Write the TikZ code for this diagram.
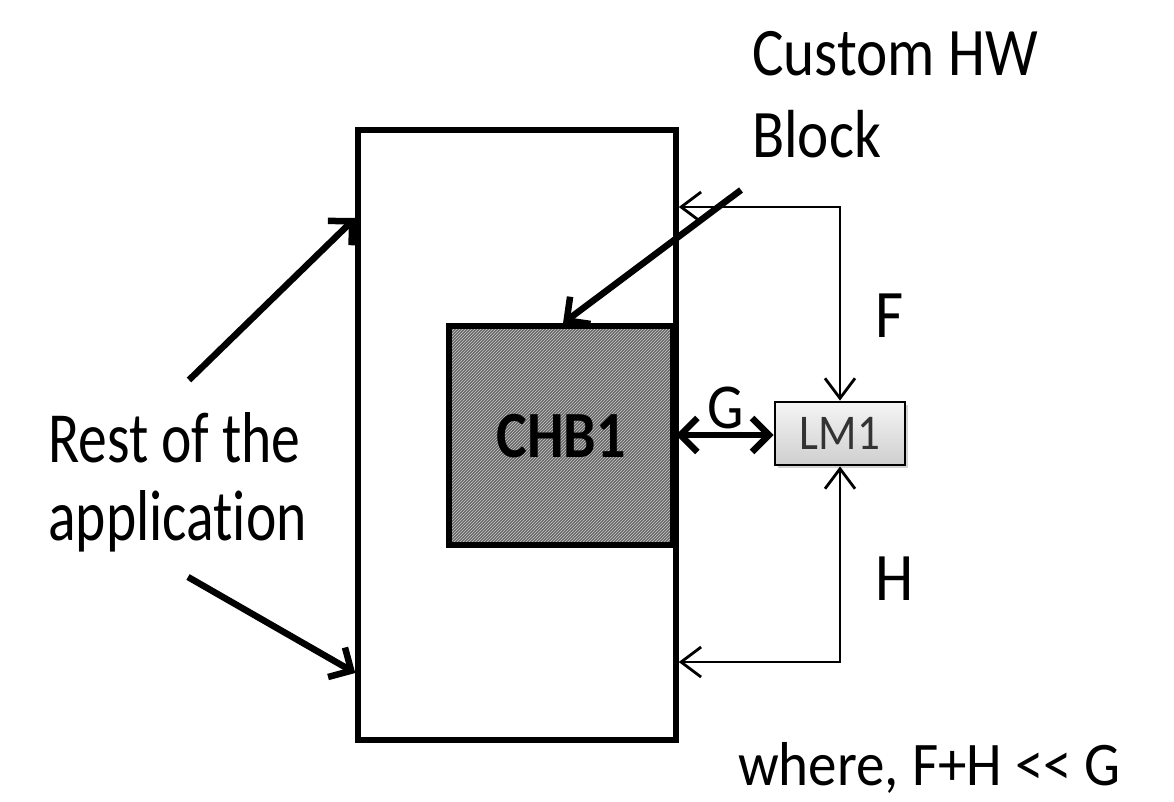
\documentclass[tikz,border=0pt]{standalone}
\usepackage{fontspec}
\newfontfamily\cf{Carlito}[Ligatures={NoCommon}]
\usetikzlibrary{arrows.meta,patterns,shadows}
\newcommand\txt[3]{\scalebox{#1}[1]{\fontsize{#2}{#2}\cf\selectfont #3}}
\begin{document}
\begin{tikzpicture}[x=1pt,y=-1pt,
  box/.style={draw,line width=5.5pt,inner sep=0pt},
  thinarrow/.style={line width=2.8pt,{Straight Barb[length=20pt,width=30pt]}-{Straight Barb[length=20pt,width=30pt]}},
  bigarrow/.style={line width=6.5pt,-{Straight Barb[length=17pt,width=34pt]}},
  gar/.style={line width=6.5pt,{Straight Barb[length=17pt,width=34pt]}-{Straight Barb[length=17pt,width=34pt]}},
  lbl/.style={inner sep=0pt,anchor=base west}]
\useasboundingbox (0,0) rectangle (1174,801);
% main block
\node[box,minimum width=318pt,minimum height=610pt] (main) at (517,435) {};
% CHB1
\node[box,minimum width=224pt,minimum height=219pt,
  preaction={fill=black!60},pattern=north east lines,pattern color=white!80!black] (chb) at (561,435.5) {};
\node[inner sep=0pt] (chbt) at (561,436) {\txt{0.88}{66}{\bfseries CHB1}};
% LM1
\node[draw,line width=2.8pt,minimum width=130pt,minimum height=63pt,inner sep=0pt,
  top color=gray!8,bottom color=gray!38,drop shadow={opacity=0.35,shadow xshift=3pt,shadow yshift=-3pt}] (lm) at (840,433.5)
  {\color{black!80}\txt{0.9}{50}{LM1}};
% connectors F, H, G
\draw[thinarrow] (lm.north) |- (main.east |- 0,207);
\draw[thinarrow] (lm.south) |- (main.east |- 0,662);
\draw[gar] (chb.east |- 0,435) -- (lm.west |- 0,435);
\node[lbl] (F) at (875,337) {\txt{0.9}{68}{F}};
\node[lbl] (H) at (875,600) {\txt{0.9}{68}{H}};
\node[lbl] (G) at (707,428) {\txt{0.9}{64}{G}};
% Custom HW Block
\node[lbl] (c1) at (752,75) {\txt{0.87}{68}{Custom HW}};
\node[lbl] (c2) at (752,157) {\txt{0.87}{68}{Block}};
\coordinate (cs) at (741,190);
\draw[bigarrow] (cs) -- (chb.north -| 563,0);
% Rest of the application
\node[lbl] (r1) at (48,462) {\txt{0.8}{72}{Rest of the}};
\node[lbl] (r2) at (48,540) {\txt{0.8}{72}{application}};
\coordinate (a1) at (189,380);
\coordinate (a2) at (188,577);
\draw[bigarrow] (a1) -- (main.west |- 0,218);
\draw[bigarrow] (a2) -- (main.west |- 0,673);
% note
\node[lbl] (w) at (738,785) {\txt{0.92}{62}{where, F+H {<}{<} G}};
\end{tikzpicture}
\end{document}
